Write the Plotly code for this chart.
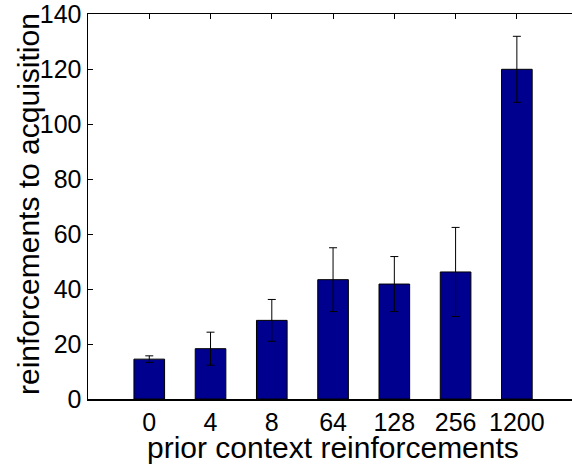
import plotly.graph_objects as go

categories = ["0", "4", "8", "64", "128", "256", "1200"]
means = [14.5, 18.3, 28.6, 43.4, 41.8, 46.2, 119.9]
errors = [1.2, 6.0, 7.6, 11.6, 10.0, 16.2, 12.0]
y_ticks = [0, 20, 40, 60, 80, 100, 120, 140]
x_title = "prior context reinforcements"
y_title = "reinforcements to acquisition"

positions = list(range(1, len(categories) + 1))

fig = go.Figure()
fig.add_trace(go.Bar(
    x=positions,
    y=means,
    width=0.5,
    marker=dict(color="#00008F", line=dict(color="black", width=1)),
    error_y=dict(type="data", array=errors, visible=True,
                 color="black", thickness=1, width=4),
    hoverinfo="skip",
))

font_family = "Liberation Sans, Arial, sans-serif"
W, H = 572, 465
L, R, T, B = 88, 0, 14, 66
pw, ph = W - L - R, H - T - B

fig.update_layout(
    width=W, height=H,
    margin=dict(l=L, r=R, t=T, b=B, autoexpand=False),
    paper_bgcolor="white", plot_bgcolor="white",
    showlegend=False, hovermode=False,
    font=dict(family=font_family, color="black", size=25),
    xaxis=dict(
        range=[0, 7.9], automargin=False,
        tickmode="array", tickvals=positions, ticktext=categories,
        ticks="inside", ticklen=5, tickcolor="black", tickwidth=1,
        showline=True, linecolor="black", linewidth=1.5, mirror="ticks",
        showgrid=False, zeroline=False, layer="below traces",
        tickfont=dict(size=25, family=font_family),
        ticklabeloverflow="allow",
    ),
    yaxis=dict(
        range=[0, 140.01], automargin=False,
        tickmode="array", tickvals=y_ticks,
        ticks="inside", ticklen=5, tickcolor="black", tickwidth=1,
        showline=True, linecolor="black", linewidth=1.5,
        showgrid=False, zeroline=False,
        tickfont=dict(size=25, family=font_family),
        ticklabeloverflow="allow",
    ),
    annotations=[
        dict(text=x_title, xref="paper", yref="paper",
             x=(333 - L) / pw, y=-(447 - T - ph) / ph,
             xanchor="center", yanchor="middle", showarrow=False,
             font=dict(size=30, family=font_family, color="black")),
        dict(text=y_title, xref="paper", yref="paper",
             x=-(L - 28) / pw, y=(H - B - 204) / ph,
             xanchor="center", yanchor="middle", textangle=-90,
             showarrow=False,
             font=dict(size=30, family=font_family, color="black")),
    ],
)

fig.write_html(
    "out.html",
    config={"displayModeBar": False, "staticPlot": True},
    post_script="document.body.style.margin='0';document.body.style.overflow='hidden';",
)
